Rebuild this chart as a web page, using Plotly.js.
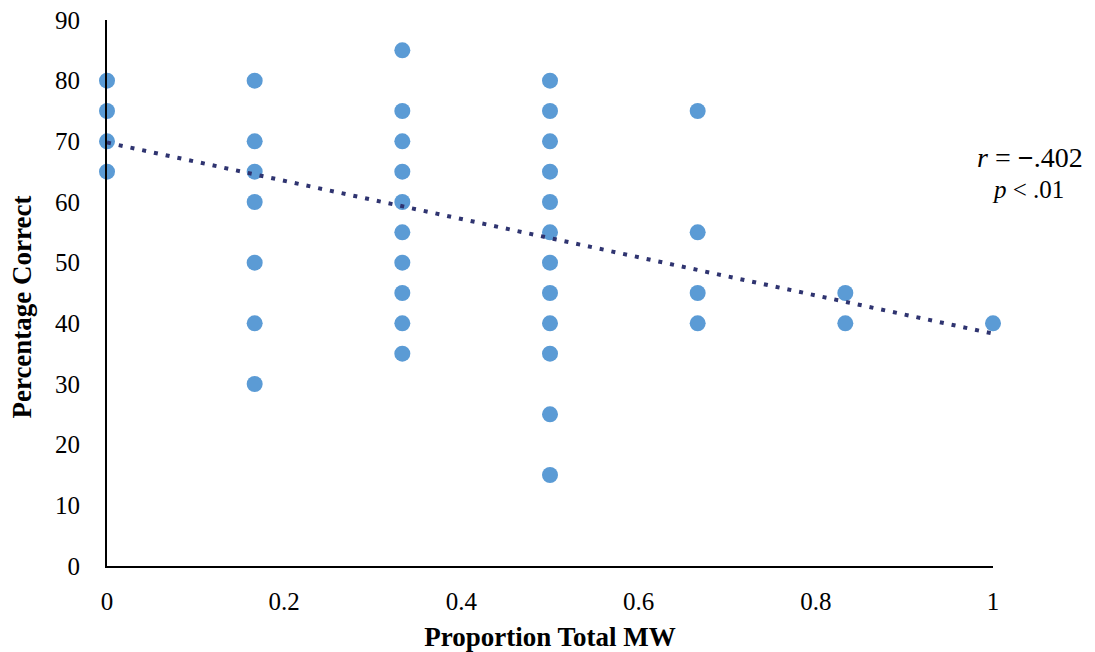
<!DOCTYPE html>
<html>
<head>
<meta charset="utf-8">
<script src="https://cdn.plot.ly/plotly-3.0.1.min.js"></script>
<style>html,body{margin:0;padding:0;background:#fff;}#chart{width:1095px;height:652px;}</style>
</head>
<body>
<div id="chart"></div>
<script>
// Data
const proportionMW = [
  0, 0, 0, 0,
  1/6, 1/6, 1/6, 1/6, 1/6, 1/6, 1/6,
  1/3, 1/3, 1/3, 1/3, 1/3, 1/3, 1/3, 1/3, 1/3, 1/3,
  0.5, 0.5, 0.5, 0.5, 0.5, 0.5, 0.5, 0.5, 0.5, 0.5, 0.5, 0.5,
  2/3, 2/3, 2/3, 2/3,
  5/6, 5/6,
  1
];
const percentCorrect = [
  80, 75, 70, 65,
  80, 70, 65, 60, 50, 40, 30,
  85, 75, 70, 65, 60, 55, 50, 45, 40, 35,
  80, 75, 70, 65, 60, 55, 50, 45, 40, 35, 25, 15,
  75, 55, 45, 40,
  45, 40,
  40
];
const trendX = [0, 1];
const trendY = [69.8, 38.3];
const xTicks = [0, 0.2, 0.4, 0.6, 0.8, 1];
const xTickLabels = ['0', '0.2', '0.4', '0.6', '0.8', '1'];
const yTicks = [0, 10, 20, 30, 40, 50, 60, 70, 80, 90];

const serif = 'Liberation Serif, Times New Roman, serif';

const traces = [
  {
    x: proportionMW, y: percentCorrect,
    type: 'scatter', mode: 'markers',
    marker: {color: '#5B9BD5', size: 16, line: {width: 0}},
    cliponaxis: false, hoverinfo: 'skip'
  },
  {
    x: trendX, y: trendY,
    type: 'scatter', mode: 'lines',
    line: {color: '#2F3470', width: 4, dash: '4px,8px'},
    cliponaxis: false, hoverinfo: 'skip'
  }
];

const layout = {
  width: 1095, height: 652,
  margin: {l: 107, r: 102, t: 20, b: 86, pad: 0},
  paper_bgcolor: '#fff', plot_bgcolor: '#fff',
  showlegend: false,
  font: {family: serif, size: 24, color: '#000'},
  xaxis: {
    range: [0, 1], tickvals: xTicks, ticktext: xTickLabels,
    showgrid: false, zeroline: false, showline: true, linecolor: '#000', linewidth: 2,
    ticks: '', ticklabelstandoff: 12,
    tickfont: {family: serif, size: 25, color: '#000'},
    title: {text: '<b>Proportion Total MW</b>', font: {family: serif, size: 27, color: '#000'}, standoff: 14}
  },
  yaxis: {
    range: [0, 90], tickvals: yTicks,
    showgrid: false, zeroline: false, showline: true, linecolor: '#000', linewidth: 2,
    ticks: '', ticklabelstandoff: 20,
    tickfont: {family: serif, size: 25, color: '#000'}
  },
  annotations: [
    {xref: 'paper', yref: 'y', x: -0.0959, y: 42.6, xanchor: 'center', yanchor: 'middle', showarrow: false,
     textangle: -90, text: '<b>Percentage Correct</b>', font: {family: serif, size: 27, color: '#000'}},
    {xref: 'paper', yref: 'y', x: 1.0418, y: 67.4, xanchor: 'center', yanchor: 'middle', showarrow: false,
     text: '<i>r</i> = <b>\u2212</b>.402', font: {family: serif, size: 28, color: '#000'}},
    {xref: 'paper', yref: 'y', x: 1.0395, y: 62.0, xanchor: 'center', yanchor: 'middle', showarrow: false,
     text: '<i>p</i> &lt; .01', font: {family: serif, size: 25, color: '#000'}}
  ]
};

Plotly.newPlot('chart', traces, layout, {displayModeBar: false, staticPlot: true});
</script>
</body>
</html>
